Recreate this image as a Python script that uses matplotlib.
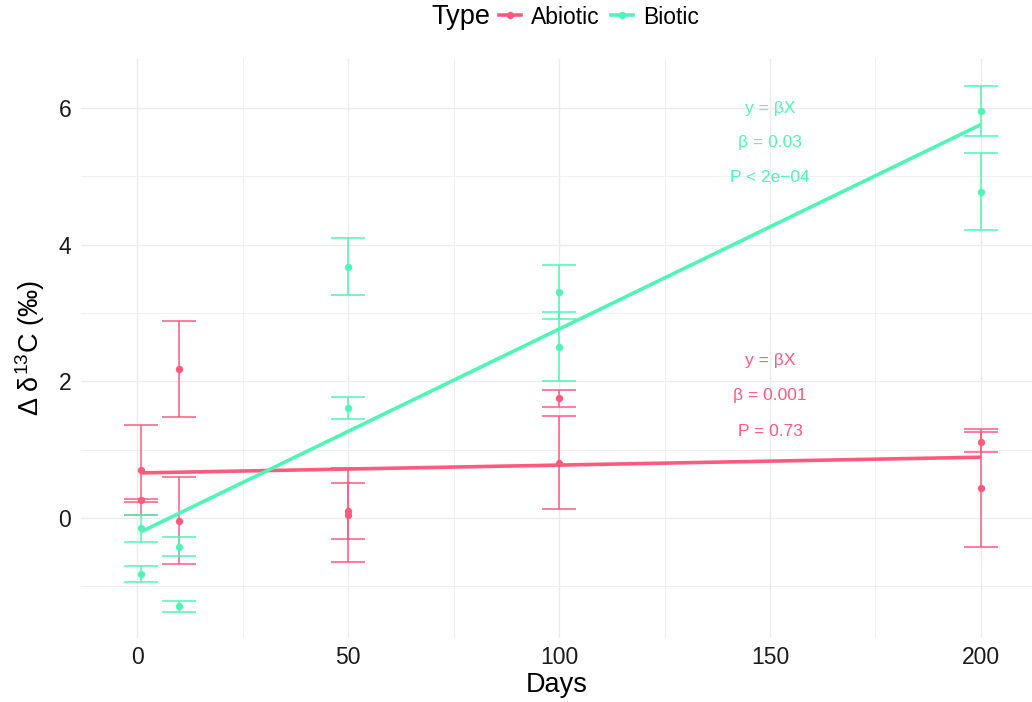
import numpy as np
import matplotlib
matplotlib.use("Agg")
import matplotlib.pyplot as plt
from matplotlib.lines import Line2D
from matplotlib.ticker import MultipleLocator

plt.rcParams.update({'font.family': ['Liberation Sans', 'DejaVu Sans'],
                     'mathtext.fontset': 'custom',
                     'mathtext.rm': 'Liberation Sans',
                     'mathtext.it': 'Liberation Sans',
                     'mathtext.bf': 'Liberation Sans'})

# data
days = [1, 1, 10, 10, 50, 50, 100, 100, 200, 200]
abiotic_mean = [0.70, 0.26, 2.18, -0.04, 0.04, 0.10, 1.75, 0.81, 1.11, 0.44]
abiotic_err = [0.66, 0.02, 0.70, 0.64, 0.69, 0.41, 0.12, 0.68, 0.15, 0.86]
biotic_mean = [-0.15, -0.82, -0.42, -1.29, 3.68, 1.61, 3.31, 2.51, 5.96, 4.78]
biotic_err = [0.20, 0.12, 0.14, 0.08, 0.42, 0.16, 0.39, 0.50, 0.37, 0.57]

fit_days = [1, 200]
abiotic_fit = [0.66, 0.89]
biotic_fit = [-0.20, 5.76]

abiotic_label = ["y = βX", "β = 0.001", "P = 0.73"]
abiotic_label_y = [2.3, 1.8, 1.27]
biotic_label = ["y = βX", "β = 0.03", "P < 2e\u221204"]
biotic_label_y = [6.0, 5.5, 4.98]
label_day = 150

PINK = '#FF5A7E'
GREEN = '#4FF5B5'

fig = plt.figure(figsize=(10.32, 7.02), dpi=100)
ax = fig.add_axes([81 / 1032, 64 / 702, 1 - 81 / 1032, (638 - 59) / 702])

for mean, err, col in [(abiotic_mean, abiotic_err, PINK), (biotic_mean, biotic_err, GREEN)]:
    ax.errorbar(days, mean, yerr=err, fmt='none', ecolor=col, elinewidth=1.1,
                capsize=12.2, capthick=1.1, zorder=2)
    ax.plot(days, mean, 'o', color=col, ms=5.3, mec='none', zorder=3)

ax.plot(fit_days, abiotic_fit, color=PINK, lw=2.6, zorder=4, solid_capstyle='butt')
ax.plot(fit_days, biotic_fit, color=GREEN, lw=2.6, zorder=4, solid_capstyle='butt')

for txt, y in zip(abiotic_label, abiotic_label_y):
    ax.text(label_day, y, txt, color=PINK, ha='center', va='center', fontsize=12.5)
for txt, y in zip(biotic_label, biotic_label_y):
    ax.text(label_day, y, txt, color=GREEN, ha='center', va='center', fontsize=12.5)

ax.set_xlim(-13.3, 212.1)
ax.set_ylim(-1.757, 6.72)
ax.xaxis.set_major_locator(MultipleLocator(50))
ax.xaxis.set_minor_locator(MultipleLocator(25))
ax.yaxis.set_major_locator(MultipleLocator(2))
ax.yaxis.set_minor_locator(MultipleLocator(1))
ax.grid(which='major', color='#EBEBEB', lw=1.0, zorder=0)
ax.grid(which='minor', color='#EFEFEF', lw=0.7, zorder=0)
ax.set_axisbelow(True)
for s in ax.spines.values():
    s.set_visible(False)
ax.tick_params(which='both', length=0, labelsize=16.5, colors='#1a1a1a', pad=6)
ax.tick_params(axis='y', pad=7)

ax.set_xlabel("Days", fontsize=19.5, labelpad=2)
ax.set_ylabel(r"$\Delta\;\delta^{13}$C (‰)", fontsize=19.5, labelpad=8)

handles = [Line2D([], [], color=PINK, lw=2.6, marker='o', ms=5.3, mec='none'),
           Line2D([], [], color=GREEN, lw=2.6, marker='o', ms=5.3, mec='none')]
fig.text(490 / 1032, 1 - 17 / 702, "Type", ha='right', va='center', fontsize=19.5)
fig.legend(handles, ["Abiotic", "Biotic"], loc='center left',
           bbox_to_anchor=(499 / 1032, 1 - 17 / 702), ncol=2, frameon=False,
           borderpad=0, borderaxespad=0, handlelength=0.95, handletextpad=0.45,
           columnspacing=0.5, fontsize=16.5)

fig.savefig("out.png", dpi=100)
